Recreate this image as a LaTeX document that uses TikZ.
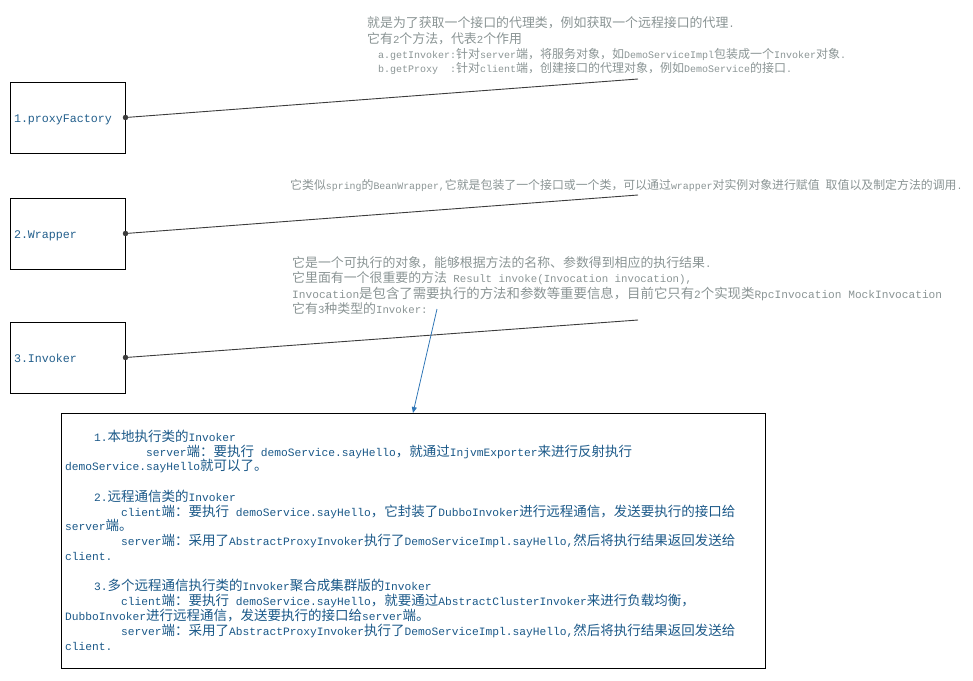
\documentclass[tikz,border=0pt]{standalone}
\usepackage{fontspec}
\usetikzlibrary{arrows.meta}
\setmainfont{Liberation Mono}[Scale=0.8333]
\newfontfamily\cjkf{Noto Sans CJK SC}
\XeTeXinterchartokenstate=1
\chardef\cjkclass=7
\makeatletter
\count@="3000
\loop\XeTeXcharclass\count@=\cjkclass\advance\count@ by 1 \ifnum\count@<"A000 \repeat
\count@="FF00
\loop\XeTeXcharclass\count@=\cjkclass\advance\count@ by 1 \ifnum\count@<"FFF0 \repeat
\makeatother
\XeTeXinterchartoks 0 \cjkclass = {\cjkf}
\XeTeXinterchartoks 4095 \cjkclass = {\cjkf}
\XeTeXinterchartoks \cjkclass 0 = {\rmfamily}
\XeTeXinterchartoks \cjkclass 4095 = {\rmfamily}
\definecolor{notegray}{RGB}{138,148,148}
\definecolor{bodyblue}{RGB}{26,88,136}
\definecolor{labelblue}{RGB}{35,95,140}
\definecolor{linegray}{RGB}{60,60,60}
\definecolor{arrowblue}{RGB}{46,117,182}
\tikzset{
  topicbox/.style={draw=black, line width=1pt, minimum width=115pt, minimum height=71pt,
    text width=107pt, inner xsep=4pt, align=left, text=labelblue,
    text height=12pt, text depth=2pt,
    font=\fontsize{14}{16}\selectfont},
  notetext/.style={anchor=base west, inner sep=0pt, text=notegray},
  bodytext/.style={anchor=base west, inner sep=0pt, text=bodyblue, font=\fontsize{13.5}{15}\selectfont},
  joinline/.style={draw=linegray, line width=0.9pt},
  joindot/.style={circle, fill=linegray, inner sep=0pt, minimum size=5.5pt},
}
\begin{document}
\begin{tikzpicture}[x=1pt,y=-1pt]
\useasboundingbox (0,0) rectangle (973,680);
% left boxes
\node[topicbox] (b1) at (67.5,117.5) {1.proxyFactory};
\node[topicbox] (b2) at (67.5,233.5) {2.Wrapper};
\node[topicbox] (b3) at (67.5,357.5) {3.Invoker};
\coordinate (e1) at (638,79);
\coordinate (e2) at (638,195);
\coordinate (e3) at (638,320);
\draw[joinline] (b1.east) -- (e1);
\draw[joinline] (b2.east) -- (e2);
\draw[joinline] (b3.east) -- (e3);
\node[joindot] (d1) at (b1.east) {};
\node[joindot] (d2) at (b2.east) {};
\node[joindot] (d3) at (b3.east) {};
% note 1
\node[notetext, font=\fontsize{12.9}{15}\selectfont] (n1a) at (367,27) {就是为了获取一个接口的代理类，例如获取一个远程接口的代理.};
\node[notetext, font=\fontsize{12.9}{15}\selectfont] (n1b) at (367,43) {它有2个方法，代表2个作用};
\node[notetext, font=\fontsize{12}{14}\selectfont] (n1c) at (378,58) {a.getInvoker:针对server端，将服务对象，如DemoServiceImpl包装成一个Invoker对象.};
\node[notetext, font=\fontsize{12}{14}\selectfont] (n1d) at (378,72) {b.getProxy\ \ :针对client端，创建接口的代理对象，例如DemoService的接口.};
% note 2
\node[notetext, font=\fontsize{11.9}{14}\selectfont] (n2) at (290,189) {它类似spring的BeanWrapper,它就是包装了一个接口或一个类，可以通过wrapper对实例对象进行赋值 取值以及制定方法的调用.};
% note 3
\node[notetext, font=\fontsize{12.9}{15}\selectfont] (n3a) at (292,267) {它是一个可执行的对象，能够根据方法的名称、参数得到相应的执行结果.};
\node[notetext, font=\fontsize{12.9}{15}\selectfont] (n3b) at (292,282) {它里面有一个很重要的方法 Result invoke(Invocation invocation),};
\node[notetext, font=\fontsize{13.4}{15}\selectfont] (n3c) at (292,298) {Invocation是包含了需要执行的方法和参数等重要信息，目前它只有2个实现类RpcInvocation MockInvocation};
\node[notetext, font=\fontsize{12.9}{15}\selectfont] (n3d) at (292,313) {它有3种类型的Invoker:};
% big box
\node[draw=black, line width=1pt, anchor=north west, minimum width=704pt, minimum height=255pt, inner sep=0pt] (big) at (61,413) {};
\coordinate (a0) at (437,309);
\coordinate (a1) at (413,413);
\draw[arrowblue, line width=0.8pt, -{Triangle[length=6pt,width=5pt]}] (a0) -- (a1);
% body text
\node[bodytext] (t1) at (94,441) {1.本地执行类的Invoker};
\node[bodytext] (t2) at (146,456) {server端：要执行 demoService.sayHello，就通过InjvmExporter来进行反射执行};
\node[bodytext] (t3) at (65,470) {demoService.sayHello就可以了。};
\node[bodytext] (t4) at (94,501) {2.远程通信类的Invoker};
\node[bodytext] (t5) at (121,516) {client端：要执行 demoService.sayHello，它封装了DubboInvoker进行远程通信，发送要执行的接口给};
\node[bodytext] (t6) at (65,530) {server端。};
\node[bodytext] (t7) at (121,545) {server端：采用了AbstractProxyInvoker执行了DemoServiceImpl.sayHello,然后将执行结果返回发送给};
\node[bodytext] (t8) at (65,560) {client.};
\node[bodytext] (t9) at (94,590) {3.多个远程通信执行类的Invoker聚合成集群版的Invoker};
\node[bodytext] (t10) at (121,605) {client端：要执行 demoService.sayHello，就要通过AbstractClusterInvoker来进行负载均衡，};
\node[bodytext] (t11) at (65,620) {DubboInvoker进行远程通信，发送要执行的接口给server端。};
\node[bodytext] (t12) at (121,635) {server端：采用了AbstractProxyInvoker执行了DemoServiceImpl.sayHello,然后将执行结果返回发送给};
\node[bodytext] (t13) at (65,650) {client.};
\end{tikzpicture}
\end{document}
